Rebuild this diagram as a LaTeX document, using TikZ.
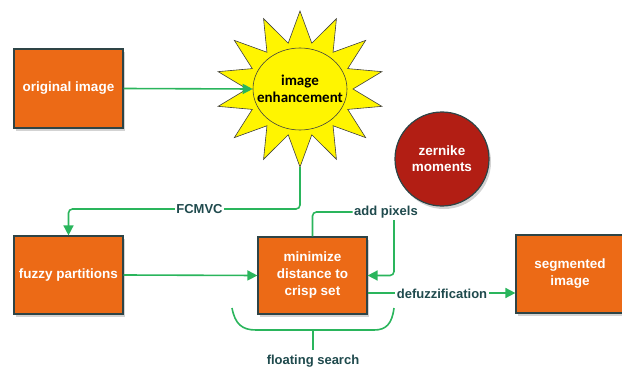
\documentclass[tikz,border=0pt]{standalone}
\usepackage{fontspec}
\setmainfont{Liberation Sans}
\newfontfamily\sunfont{Carlito}
\usetikzlibrary{shadows,shapes.geometric,arrows.meta,calc}
\definecolor{boxor}{HTML}{EC6A16}
\definecolor{boxedge}{HTML}{2E4446}
\definecolor{zred}{HTML}{B21E14}
\definecolor{sunyel}{HTML}{FFF500}
\definecolor{lgreen}{HTML}{2AB55C}
\definecolor{lbl}{HTML}{1F4A4D}
\begin{document}
\begin{tikzpicture}[x=1pt,y=-1pt,
  box/.style={draw=boxedge, line width=1.2pt, fill=boxor, text=white,
    font=\bfseries\fontsize{13.5}{17}\selectfont, align=center, inner sep=0pt,
    drop shadow={shadow xshift=2pt, shadow yshift=-3pt, opacity=0.35}},
  conn/.style={draw=lgreen, line width=1.6pt, rounded corners=4pt},
  arr/.style={conn, -{Triangle[length=10pt,width=10pt]}},
  lab/.style={fill=white, text=lbl, font=\bfseries\fontsize{13}{16}\selectfont, inner sep=1.5pt}
]
\useasboundingbox (0,0) rectangle (622,369);

% sun
\coordinate (sc) at (300,89);
\draw[fill=sunyel, draw=black!75, line width=0.6pt, line join=miter]
  ($(sc)+(90:84pt and 78pt)$)
  \foreach \k in {0,...,13} {
    -- ($(sc)+({90+\k*360/14+360/28}:53pt and 47pt)$)
    -- ($(sc)+({90+(\k+1)*360/14}:84pt and 78pt)$)
  } -- cycle;
\node[ellipse, draw=black!75, line width=0.6pt, fill=sunyel, minimum width=94pt,
  minimum height=82pt, inner sep=0pt] (sun) at (sc) {};
\node[align=center, inner sep=0pt, font=\sunfont\bfseries\fontsize{15}{17.5}\selectfont] (suntxt) at (sc) {image\\enhancement};
\coordinate (sunb) at (300,167);

% boxes
\node[box, minimum width=109pt, minimum height=79pt] (orig) at (68.5,88.5) {original image};
\node[box, minimum width=109pt, minimum height=78pt] (fuzzy) at (68.5,275) {fuzzy partitions};
\node[box, minimum width=109pt, minimum height=77pt] (min) at (312.5,275.5) {minimize\\distance to\\crisp set};
\node[box, minimum width=108pt, minimum height=78pt] (seg) at (570,274) {segmented\\image};
\node[circle, draw=boxedge, line width=1.2pt, fill=zred, text=white,
  minimum size=94pt, inner sep=0pt, align=center,
  font=\bfseries\fontsize{13.5}{16}\selectfont,
  drop shadow={shadow xshift=2pt, shadow yshift=-3pt, opacity=0.35}] (zer) at (442,159) {zernike\\moments};

% connectors
\draw[arr] (orig.east) -- (sun.west);

\coordinate (fc) at (68.5,209);
\draw[arr] (sunb) |- (fc) -- (fuzzy.north);
\node[lab] (fcmvc) at (199.5,209) {FCMVC};

\draw[arr] (fuzzy.east) -- (min.west);

\node[lab] (addpx) at (386,212) {add pixels};
\draw[conn] (min.north) |- (addpx.west);
\coordinate (apd) at (394,220);
\draw[arr] (apd) |- (min.east);

\coordinate (dz) at (0,293);
\draw[arr] (min.east |- dz) -- (seg.west |- dz);
\node[lab] (defuz) at (442,294) {defuzzification};

% floating search brace
\coordinate (bl) at (232,308);
\coordinate (br) at (394,308);
\coordinate (bm) at (313,330);
\coordinate (bs) at (313,350);
\draw[conn, rounded corners=0pt] (bl) .. controls (235,324) and (242,330) .. (256,330)
  -- (374,330) .. controls (386,330) and (392,324) .. (br);
\draw[conn] (bm) -- (bs);
\node[lab] (fs) at (313,361) {floating search};
\end{tikzpicture}
\end{document}
